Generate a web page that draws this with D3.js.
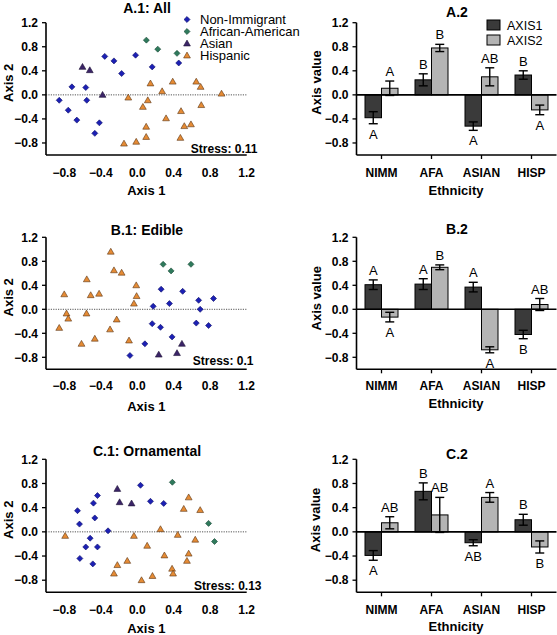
<!DOCTYPE html>
<html><head><meta charset="utf-8">
<script src="https://cdn.jsdelivr.net/npm/d3@7"></script>
<style>
body{margin:0;background:#fff;}
text{font-family:"Liberation Sans",Arial,sans-serif;}
</style></head>
<body><svg id="c" width="557" height="635"></svg>
<script>
// ---------- DATA ----------
const groups = ["Non-Immigrant","African-American","Asian","Hispanic"];
const categories = ["NIMM","AFA","ASIAN","HISP"];
const seriesNames = ["AXIS1","AXIS2"];
const yTicks = [-0.8,-0.4,0.0,0.4,0.8,1.2];
const xTicks = [-0.8,-0.4,0.0,0.4,0.8,1.2];

// Panel A.1 (All)
const aNimm = [[-0.855,-0.09],[-0.756,-0.255],[-0.716,0.133],[-0.662,-0.42],[-0.564,0.122],[-0.553,-0.09],[-0.465,-0.64],[-0.415,-0.465],[-0.356,0.64],[-0.255,0.565],[-0.171,0.355],[-0.018,0.66],[0.164,0.465],[0.455,0.53]];
const aAfa = [[0.10,0.91],[0.225,0.76],[0.436,0.69]];
const aAsian = [[-0.6,0.465],[-0.52,0.41],[-0.38,0.0]];
const aHisp = [[-0.098,-0.045],[-0.145,-0.81],[-0.011,-0.78],[0.062,-0.2],[0.116,-0.09],[0.145,0.19],[0.098,-0.53],[0.098,-0.70],[0.273,0.06],[0.316,-0.39],[0.389,0.22],[0.48,-0.27],[0.473,-0.715],[0.516,-0.52],[0.589,-0.49],[0.647,0.22],[0.695,0.133],[0.702,-0.17],[0.924,0.02]];
// Panel B.1 (Edible)
const bNimm = [[0.262,0.335],[0.498,0.30],[0.175,0.05],[0.353,0.095],[0.673,0.15],[0.836,0.18],[0.69,0.0],[0.647,-0.23],[0.782,-0.27],[0.164,-0.24],[0.255,-0.30],[0.382,-0.46],[0.084,-0.575],[-0.08,-0.77]];
const bAfa = [[0.284,0.75],[0.371,0.64],[0.589,0.75]];
const bAsian = [[0.236,-0.755],[0.436,-0.73],[0.49,-0.575]];
const bHisp = [[-0.29,0.96],[-0.255,0.65],[-0.171,0.61],[-0.553,0.50],[-0.011,0.40],[-0.8,0.25],[-0.51,0.235],[-0.418,0.26],[-0.007,0.22],[-0.036,0.095],[-0.775,-0.07],[-0.756,-0.156],[-0.556,-0.07],[-0.855,-0.31],[-0.225,-0.17],[-0.298,-0.335],[-0.465,-0.49],[-0.611,-0.575],[-0.09,-0.52]];
// Panel C.1 (Ornamental)
const cNimm = [[0.036,0.77],[-0.436,0.60],[-0.48,0.475],[0.145,0.505],[0.29,0.47],[-0.655,0.35],[-0.633,0.128],[-0.465,0.23],[-0.32,0.017],[-0.516,-0.105],[-0.564,-0.25],[-0.436,-0.25],[-0.629,-0.44],[-0.487,-0.53]];
const cAfa = [[0.385,0.82],[0.782,0.14],[0.847,-0.16]];
const cAsian = [[-0.218,0.71],[-0.193,0.49],[-0.062,0.47]];
const cHisp = [[-0.79,-0.067],[-0.036,-0.067],[0.255,0.044],[0.444,-0.05],[0.109,-0.23],[0.298,-0.39],[-0.109,-0.48],[-0.218,-0.55],[-0.255,-0.69],[0.047,-0.8],[0.167,-0.73],[0.382,-0.61],[0.393,-0.69],[0.545,-0.48],[0.564,-0.36],[0.636,-0.13],[0.51,0.38],[0.564,0.57],[0.69,0.36]];

// Bar panels: means, errors, letters (per category)
const a2Axis1 = [-0.38, 0.25, -0.52, 0.33];
const a2Axis2 = [0.11, 0.78, 0.30, -0.25];
const a2Err1 = [0.10, 0.10, 0.07, 0.07];
const a2Err2 = [0.12, 0.06, 0.15, 0.08];
const a2Let1 = ["A","B","A","B"];
const a2Let2 = ["A","B","AB","A"];

const b2Axis1 = [0.41, 0.42, 0.37, -0.42];
const b2Axis2 = [-0.13, 0.70, -0.675, 0.08];
const b2Err1 = [0.08, 0.09, 0.08, 0.07];
const b2Err2 = [0.08, 0.04, 0.05, 0.10];
const b2Let1 = ["A","A","A","B"];
const b2Let2 = ["A","B","A","AB"];

const c2Axis1 = [-0.39, 0.67, -0.18, 0.20];
const c2Axis2 = [0.15, 0.28, 0.57, -0.25];
const c2Err1 = [0.08, 0.14, 0.05, 0.09];
const c2Err2 = [0.10, 0.29, 0.08, 0.10];
const c2Let1 = ["A","B","AB","B"];
const c2Let2 = ["AB","AB","A","B"];

// ---------- DRAWING ----------
const svg = d3.select("#c");
const colors = {"Non-Immigrant":"#1c20b4","African-American":"#2f7a5c","Asian":"#3b2468","Hispanic":"#e58b35"};
const strokes = {"Non-Immigrant":"#10126a","African-American":"#1b4a37","Asian":"#1e1236","Hispanic":"#5b3412"};
const shapes = {"Non-Immigrant":"d","African-American":"d","Asian":"t","Hispanic":"t"};
const barFill = {"AXIS1":"#3a3a3a","AXIS2":"#b4b4b4"};

const xS = d3.scaleLinear().domain([-1,1.2]).range([46,246.7]);

function symbolPath(kind){
  if(kind==="d") return d3.symbol().type(d3.symbolSquare).size(18)();
  return d3.symbol().type(d3.symbolTriangle).size(20)();
}
function marker(g, kind, x, y, grp){
  g.append("path").attr("d", symbolPath(kind))
   .attr("transform", kind==="d" ? `translate(${x},${y}) rotate(45)` : `translate(${x},${y+0.5})`)
   .attr("fill", colors[grp]).attr("stroke", strokes[grp]).attr("stroke-width",0.6);
}

function yAxis(g, y, x0){
  g.append("line").attr("x1",x0).attr("x2",x0).attr("y1",y(1.2)).attr("y2",y(-1)).attr("stroke","#000").attr("stroke-width",1.6);
  yTicks.forEach(t=>{
    g.append("line").attr("x1",x0-4).attr("x2",x0).attr("y1",y(t)).attr("y2",y(t)).attr("stroke","#000").attr("stroke-width",1.3);
    g.append("text").attr("x",x0-8).attr("y",y(t)+4.2).attr("text-anchor","end")
      .attr("font-size",12).attr("font-weight","bold").text(d3.format(".1f")(t));
  });
}

function scatterPanel(cfg){
  const g = svg.append("g");
  const y = d3.scaleLinear().domain([-1,1.2]).range(cfg.yr);
  g.append("line").attr("x1",xS(-1)).attr("x2",xS(1.2)).attr("y1",y(0)).attr("y2",y(0))
   .attr("stroke","#555").attr("stroke-width",1).attr("stroke-dasharray","1.2,1.2");
  yAxis(g, y, xS(-1));
  g.append("line").attr("x1",xS(-1)).attr("x2",xS(1.2)).attr("y1",y(-1)).attr("y2",y(-1)).attr("stroke","#000").attr("stroke-width",1.6);
  xTicks.forEach(t=>{
    g.append("text").attr("x",xS(t)).attr("y",cfg.tickBase).attr("text-anchor","middle")
     .attr("font-size",12).attr("font-weight","bold").text(d3.format(".1f")(t));
  });
  g.append("text").attr("x",xS(0.1)).attr("y",cfg.xtBase).attr("text-anchor","middle")
   .attr("font-size",13).attr("font-weight","bold").text("Axis 1");
  const cy = (y(1.2)+y(-0.8))/2;
  g.append("text").attr("transform",`translate(13,${cy}) rotate(-90)`).attr("text-anchor","middle")
   .attr("font-size",13).attr("font-weight","bold").text("Axis 2");
  g.append("text").attr("x",147).attr("y",cfg.titleBase).attr("text-anchor","middle")
   .attr("font-size",14).attr("font-weight","bold").text(cfg.title);
  g.append("text").attr("x",cfg.stressX).attr("y",cfg.stressBase).attr("text-anchor","end")
   .attr("font-size",12).attr("font-weight","bold").text(cfg.stress);
  const sets = [[cfg.data[0],"Non-Immigrant"],[cfg.data[1],"African-American"],[cfg.data[2],"Asian"],[cfg.data[3],"Hispanic"]];
  sets.forEach(([arr,grp])=>arr.forEach(p=>marker(g, shapes[grp], xS(p[0]), y(p[1]), grp)));
  if(cfg.legend){
    groups.forEach((grp,i)=>{
      const ly = 19.5 + i*12;
      marker(g, shapes[grp], 187, ly, grp);
      g.append("text").attr("x",200).attr("y",ly+4.5).attr("font-size",13).text(grp);
    });
  }
}

function barPanel(cfg){
  const g = svg.append("g");
  const y = d3.scaleLinear().domain([-1,1.2]).range(cfg.yr);
  const x0 = d3.scaleBand().domain(categories).range([356.5,556.5]).paddingInner(0.34).paddingOuter(0.17);
  const x1 = d3.scaleBand().domain(seriesNames).range([0,x0.bandwidth()]).padding(0);
  const vals = {"AXIS1":cfg.v1,"AXIS2":cfg.v2};
  const errs = {"AXIS1":cfg.e1,"AXIS2":cfg.e2};
  const lets = {"AXIS1":cfg.l1,"AXIS2":cfg.l2};
  categories.forEach((c,i)=>{
    seriesNames.forEach(s=>{
      const v = vals[s][i], e = errs[s][i];
      const bx = x0(c)+x1(s), bw = x1.bandwidth(), cx = bx+bw/2;
      g.append("rect").attr("x",bx).attr("width",bw)
       .attr("y",y(Math.max(0,v))).attr("height",Math.abs(y(v)-y(0)))
       .attr("fill",barFill[s]).attr("stroke","#000").attr("stroke-width",1);
      const yt = y(v+e), yb = y(v-e);
      g.append("line").attr("x1",cx).attr("x2",cx).attr("y1",yt).attr("y2",yb).attr("stroke","#000").attr("stroke-width",1.4);
      [yt,yb].forEach(yy=>g.append("line").attr("x1",cx-4.5).attr("x2",cx+4.5).attr("y1",yy).attr("y2",yy).attr("stroke","#000").attr("stroke-width",1.4));
      const ly = v>=0 ? y(v+e)-5 : y(v-e)+15;
      g.append("text").attr("x",cx).attr("y",ly).attr("text-anchor","middle").attr("font-size",13).text(lets[s][i]);
    });
  });
  g.append("line").attr("x1",356.5).attr("x2",556.5).attr("y1",y(0)).attr("y2",y(0)).attr("stroke","#000").attr("stroke-width",1.6);
  yAxis(g, y, 356.5);
  g.append("line").attr("x1",356.5).attr("x2",556.5).attr("y1",y(-1)).attr("y2",y(-1)).attr("stroke","#000").attr("stroke-width",1.6);
  categories.forEach(c=>{
    const cx = x0(c)+x0.bandwidth()/2;
    g.append("line").attr("x1",cx).attr("x2",cx).attr("y1",y(-1)).attr("y2",y(-1)+4).attr("stroke","#000").attr("stroke-width",1.3);
    g.append("text").attr("x",cx).attr("y",cfg.tickBase).attr("text-anchor","middle")
     .attr("font-size",12).attr("font-weight","bold").text(c);
  });
  g.append("text").attr("x",456).attr("y",cfg.xtBase).attr("text-anchor","middle")
   .attr("font-size",13).attr("font-weight","bold").text("Ethnicity");
  g.append("text").attr("transform",`translate(${cfg.ytX},${cfg.ytY}) rotate(-90)`).attr("text-anchor","middle")
   .attr("font-size",13).attr("font-weight","bold").text("Axis value");
  g.append("text").attr("x",457).attr("y",cfg.titleBase).attr("text-anchor","middle")
   .attr("font-size",14).attr("font-weight","bold").text(cfg.title);
  if(cfg.legend){
    seriesNames.forEach((s,i)=>{
      const ly = 20 + i*15;
      g.append("rect").attr("x",487).attr("y",ly).attr("width",13).attr("height",10)
       .attr("fill",barFill[s]).attr("stroke","#000").attr("stroke-width",1);
      g.append("text").attr("x",507).attr("y",ly+9.5).attr("font-size",12.5).text(s);
    });
  }
}

scatterPanel({yr:[155,22.7], title:"A.1: All", titleBase:12.8, tickBase:176.5, xtBase:195, stress:"Stress: 0.11", stressX:257.5, stressBase:152.5, data:[aNimm,aAfa,aAsian,aHisp], legend:true});
scatterPanel({yr:[369.3,237.3], title:"B.1: Edible", titleBase:235, tickBase:390, xtBase:411, stress:"Stress: 0.1", stressX:253.5, stressBase:365, data:[bNimm,bAfa,bAsian,bHisp]});
scatterPanel({yr:[592.3,459.3], title:"C.1: Ornamental", titleBase:456, tickBase:614, xtBase:633, stress:"Stress: 0.13", stressX:261.5, stressBase:590, data:[cNimm,cAfa,cAsian,cHisp]});

barPanel({yr:[155,22.7], title:"A.2", titleBase:17, tickBase:176.5, xtBase:195, ytX:321, ytY:82.5, v1:a2Axis1, v2:a2Axis2, e1:a2Err1, e2:a2Err2, l1:a2Let1, l2:a2Let2, legend:true});
barPanel({yr:[369.3,237.3], title:"B.2", titleBase:234, tickBase:390, xtBase:408, ytX:321, ytY:298.3, v1:b2Axis1, v2:b2Axis2, e1:b2Err1, e2:b2Err2, l1:b2Let1, l2:b2Let2});
barPanel({yr:[592.3,459.3], title:"C.2", titleBase:459, tickBase:613.5, xtBase:631, ytX:320, ytY:520, v1:c2Axis1, v2:c2Axis2, e1:c2Err1, e2:c2Err2, l1:c2Let1, l2:c2Let2});
</script></body></html>
